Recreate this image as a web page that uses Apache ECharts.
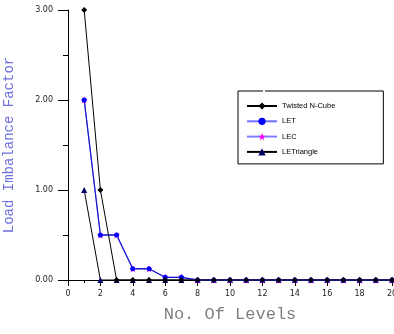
<!DOCTYPE html>
<html>
<head>
<meta charset="utf-8">
<script src="https://cdn.jsdelivr.net/npm/echarts@6/dist/echarts.min.js"></script>
<style>
  html, body { margin: 0; padding: 0; background: #fff; }
  #chart { width: 394px; height: 334px; }
</style>
</head>
<body>
<div id="chart"></div>
<script>
const levels = [1, 2, 3, 4, 5, 6, 7, 8, 9, 10, 11, 12, 13, 14, 15, 16, 17, 18, 19, 20];
const twistedNCube = [3, 1, 0, 0, 0, 0, 0, 0, 0, 0, 0, 0, 0, 0, 0, 0, 0, 0, 0, 0];
const letValues = [2, 0.5, 0.5, 0.125, 0.125, 0.03, 0.03, 0, 0, 0, 0, 0, 0, 0, 0, 0, 0, 0, 0, 0];
const lecValues = [2, 0.5, 0.5, 0.125, 0.125, 0.03, 0.03, 0, 0, 0, 0, 0, 0, 0, 0, 0, 0, 0, 0, 0];
const letTriangle = [1, 0, 0, 0, 0, 0, 0, 0, 0, 0, 0, 0, 0, 0, 0, 0, 0, 0, 0, 0];

const pairs = (vals) => levels.map((x, i) => [x, vals[i]]);
const tickFont = { color: "#222", fontSize: 8, fontFamily: "DejaVu Sans" };
const STAR = "path://M0,-10L2.9,-3.1L10,-3.1L4.3,1.2L6.2,8.1L0,4L-6.2,8.1L-4.3,1.2L-10,-3.1L-2.9,-3.1Z";

const chart = echarts.init(document.getElementById("chart"), null, { renderer: "canvas" });
chart.setOption({
  animation: false,
  grid: { left: 68, right: 2, top: 10, bottom: 54, outerBoundsMode: "none" },
  legend: {
    left: 238, top: 91,
    orient: "vertical",
    padding: [11, 48, 8, 8],
    itemGap: 7.3,
    itemWidth: 30, itemHeight: 9,
    borderColor: "#000", borderWidth: 1,
    textStyle: { fontSize: 7.5, fontFamily: "Liberation Sans", color: "#000" },
    data: [
      { name: "Twisted N-Cube" },
      { name: "LET", lineStyle: { color: "#7070ff" } },
      { name: "LEC", lineStyle: { color: "#8080ff" } },
      { name: "LETriangle" },
    ],
  },
  // small break in the legend frame's top edge
  graphic: [{ type: "rect", shape: { x: 263, y: 89, width: 2, height: 4 }, style: { fill: "#fff" }, z: 100 }],
  xAxis: {
    type: "value", min: 0, max: 20, interval: 2,
    name: "No. Of Levels", nameLocation: "middle", nameGap: 26,
    nameTextStyle: { fontFamily: "Liberation Mono", fontSize: 17, color: "#808080" },
    axisLine: { onZero: false, lineStyle: { color: "#000", width: 1 } },
    axisTick: { show: true, length: 6, lineStyle: { color: "#000" } },
    minorTick: { show: true, splitNumber: 2, length: 3, lineStyle: { color: "#000" } },
    axisLabel: { ...tickFont, margin: 10 },
    splitLine: { show: false },
  },
  yAxis: {
    type: "value", min: 0, max: 3, interval: 1,
    name: "Load Imbalance Factor", nameLocation: "middle", nameGap: 52,
    nameTextStyle: { fontFamily: "Liberation Mono", fontSize: 14, color: "#6f6fe0" },
    axisLine: { show: true, lineStyle: { color: "#000", width: 1 } },
    axisTick: { show: true, length: 10, lineStyle: { color: "#000" } },
    minorTick: { show: true, splitNumber: 2, length: 5, lineStyle: { color: "#000" } },
    axisLabel: { ...tickFont, margin: 15, formatter: (v) => v.toFixed(2) },
    splitLine: { show: false },
  },
  series: [
    { name: "LETriangle", type: "line", data: pairs(letTriangle), symbol: "triangle", symbolSize: 6,
      lineStyle: { color: "#000", width: 1 }, itemStyle: { color: "#000066" } },
    { name: "LEC", type: "line", data: pairs(lecValues), symbol: STAR, symbolSize: 7,
      lineStyle: { color: "#8080ff", width: 1 }, itemStyle: { color: "#ff00ff" } },
    { name: "LET", type: "line", data: pairs(letValues), symbol: "circle", symbolSize: 5,
      lineStyle: { color: "#1a1acc", width: 1.3 }, itemStyle: { color: "#0000ff" } },
    { name: "Twisted N-Cube", type: "line", data: pairs(twistedNCube), symbol: "diamond", symbolSize: 6,
      lineStyle: { color: "#000", width: 1 }, itemStyle: { color: "#000" } },
  ],
});
</script>
</body>
</html>
